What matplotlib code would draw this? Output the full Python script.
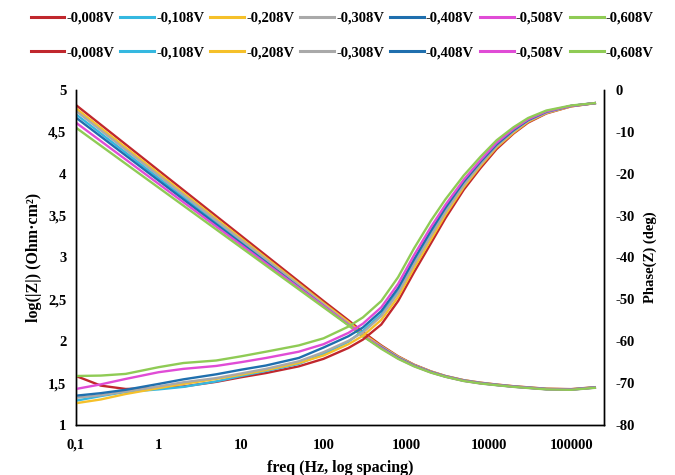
import matplotlib
matplotlib.use("Agg")
import matplotlib.pyplot as plt
from matplotlib.lines import Line2D
from matplotlib.ticker import FixedLocator, FixedFormatter, NullLocator

labels = ["-0,008V", "-0,108V", "-0,208V", "-0,308V", "-0,408V", "-0,508V", "-0,608V"]
colors = ["#C0272D", "#35B8E0", "#F5C02A", "#A9A9A9", "#1F6FAE", "#E04CD6", "#8FCB55"]

# frequencies for |Z| (Hz)
freq_z = [0.1, 1, 10, 100, 200, 300, 500, 800, 1250, 2000, 3000, 5000, 8000,
          12500, 20000, 50000, 100000, 200000]
z_008 = [4.82, 4.04, 3.26, 2.48, 2.25, 2.11, 1.95, 1.82, 1.72, 1.64, 1.585, 1.535, 1.505, 1.483, 1.463, 1.433, 1.428, 1.452]
z_108 = [4.71, 3.95, 3.19, 2.43, 2.20, 2.065, 1.93, 1.805, 1.71, 1.633, 1.58, 1.53, 1.50, 1.479, 1.459, 1.429, 1.424, 1.449]
z_208 = [4.78, 4.005, 3.23, 2.455, 2.23, 2.09, 1.94, 1.815, 1.715, 1.637, 1.583, 1.533, 1.503, 1.481, 1.461, 1.431, 1.426, 1.45]
z_308 = [4.75, 3.98, 3.21, 2.44, 2.21, 2.07, 1.935, 1.81, 1.713, 1.635, 1.582, 1.532, 1.502, 1.480, 1.460, 1.430, 1.425, 1.45]
z_408 = [4.67, 3.92, 3.17, 2.42, 2.195, 2.06, 1.925, 1.80, 1.707, 1.631, 1.579, 1.529, 1.499, 1.478, 1.458, 1.428, 1.423, 1.448]
z_508 = [4.61, 3.88, 3.15, 2.42, 2.20, 2.07, 1.92, 1.795, 1.704, 1.628, 1.577, 1.527, 1.497, 1.477, 1.457, 1.427, 1.422, 1.447]
z_608 = [4.55, 3.835, 3.12, 2.405, 2.19, 2.06, 1.91, 1.79, 1.70, 1.625, 1.575, 1.525, 1.495, 1.475, 1.455, 1.425, 1.42, 1.445]

# frequencies for phase (Hz)
freq_p = [0.1, 0.2, 0.4, 1, 2, 5, 10, 20, 50, 100, 200, 300, 500, 800, 1250, 2000,
          3000, 5000, 8000, 12500, 20000, 30000, 50000, 100000, 200000]
p_008 = [-68.3, -70.6, -71.4, -71.2, -70.8, -69.7, -68.6, -67.6, -66.0, -64.2, -61.6, -59.6, -56.0, -50.4, -43.5, -36.6,
         -30.6, -23.8, -18.6, -14.1, -10.4, -7.8, -5.6, -3.9, -3.1]
p_108 = [-74.2, -73.1, -72.1, -71.5, -70.9, -69.6, -68.3, -67.1, -65.4, -63.0, -60.1, -57.5, -53.6, -48.1, -41.2, -34.4,
         -28.8, -22.4, -17.5, -13.3, -9.8, -7.4, -5.3, -3.8, -3.1]
p_208 = [-74.8, -73.9, -72.6, -71.2, -70.2, -69.0, -68.0, -66.9, -65.2, -63.4, -60.7, -58.7, -54.9, -49.4, -42.5, -35.7,
         -29.8, -23.2, -18.1, -13.7, -10.2, -7.6, -5.5, -3.9, -3.1]
p_308 = [-73.5, -72.9, -72.0, -70.8, -69.8, -68.8, -67.7, -66.6, -64.8, -62.6, -59.9, -57.9, -54.0, -48.5, -41.6, -34.8,
         -29.1, -22.7, -17.7, -13.4, -9.9, -7.4, -5.4, -3.8, -3.1]
p_408 = [-73.0, -72.4, -71.6, -70.2, -69.1, -67.9, -66.8, -65.8, -64.0, -61.5, -58.8, -56.7, -52.8, -47.3, -40.4, -33.6,
         -28.1, -21.9, -17.1, -13.0, -9.6, -7.2, -5.2, -3.8, -3.1]
p_508 = [-71.4, -70.3, -69.0, -67.4, -66.6, -65.9, -65.0, -64.0, -62.5, -60.7, -58.0, -55.8, -51.9, -46.3, -39.4, -32.7,
         -27.4, -21.4, -16.7, -12.6, -9.3, -7.0, -5.1, -3.8, -3.1]
p_608 = [-68.3, -68.2, -67.8, -66.2, -65.2, -64.6, -63.6, -62.5, -61.0, -59.3, -56.5, -54.3, -50.4, -44.7, -37.8, -31.2,
         -26.1, -20.4, -15.9, -12.0, -8.9, -6.7, -4.9, -3.7, -3.1]

z_series = [z_008, z_108, z_208, z_308, z_408, z_508, z_608]
p_series = [p_008, p_108, p_208, p_308, p_408, p_508, p_608]

x_ticks = [0.1, 1, 10, 100, 1000, 10000, 100000]
x_ticklabels = ["0,1", "1", "10", "100", "1000", "10000", "100000"]
yl_ticks = [1, 1.5, 2, 2.5, 3, 3.5, 4, 4.5, 5]
yl_ticklabels = ["1", "1,5", "2", "2,5", "3", "3,5", "4", "4,5", "5"]
yr_ticks = [-80, -70, -60, -50, -40, -30, -20, -10, 0]
yr_ticklabels = ["-80", "-70", "-60", "-50", "-40", "-30", "-20", "-10", "0"]

plt.rcParams['font.family'] = ['Liberation Serif', 'DejaVu Serif']
plt.rcParams['font.weight'] = 'bold'

fig = plt.figure(figsize=(6.75, 4.75), dpi=100)
ax = fig.add_axes([0.1126, 0.1053, 0.7822, 0.7052])
ax2 = ax.twinx()

lw = 1.7
for zs, c in zip(z_series, colors):
    ax.plot(freq_z, zs, color=c, lw=lw, solid_capstyle='butt')
for ps, c in zip(p_series, colors):
    ax2.plot(freq_p, ps, color=c, lw=lw, solid_capstyle='butt')

ax.set_xscale('log')
ax.set_xlim(0.1, 2.5e5)
ax.set_ylim(1, 5)
ax2.set_ylim(-80, 0)

ax.xaxis.set_major_locator(FixedLocator(x_ticks))
ax.xaxis.set_major_formatter(FixedFormatter(x_ticklabels))
ax.xaxis.set_minor_locator(NullLocator())
ax.yaxis.set_major_locator(FixedLocator(yl_ticks))
ax.yaxis.set_major_formatter(FixedFormatter(yl_ticklabels))
ax2.yaxis.set_major_locator(FixedLocator(yr_ticks))
ax2.yaxis.set_major_formatter(FixedFormatter(yr_ticklabels))

fs = 10.5
for a in (ax, ax2):
    a.tick_params(axis='both', length=0, labelsize=fs)
    a.spines['top'].set_visible(False)
    for s in ('left', 'bottom', 'right'):
        a.spines[s].set_linewidth(1.0)
        a.spines[s].set_color('black')
ax.tick_params(axis='x', pad=10)
ax.tick_params(axis='y', pad=7)
ax2.tick_params(axis='y', pad=8.5)
for lab in ax.get_xticklabels() + ax.get_yticklabels() + ax2.get_yticklabels():
    lab.set_fontweight('bold')

ax.set_xlabel("freq (Hz, log spacing)", fontsize=11.5, fontweight='bold', labelpad=6)
ax.set_ylabel("log(|Z|) (Ohm·cm²)", fontsize=11.5, fontweight='bold', labelpad=4)
ax2.set_ylabel("Phase(Z) (deg)", fontsize=10.5, fontweight='bold', labelpad=6)

handles = [Line2D([0], [0], color=c, lw=2.2) for c in colors]
for yy in (0.962, 0.889):
    fig.legend(handles, labels, loc='center', bbox_to_anchor=(0.507, yy), ncol=7,
               frameon=False, handlelength=2.3, handletextpad=0.15,
               columnspacing=0.42, prop={'weight': 'bold', 'size': 10.5})

fig.savefig("out.png", dpi=100, facecolor='white')
